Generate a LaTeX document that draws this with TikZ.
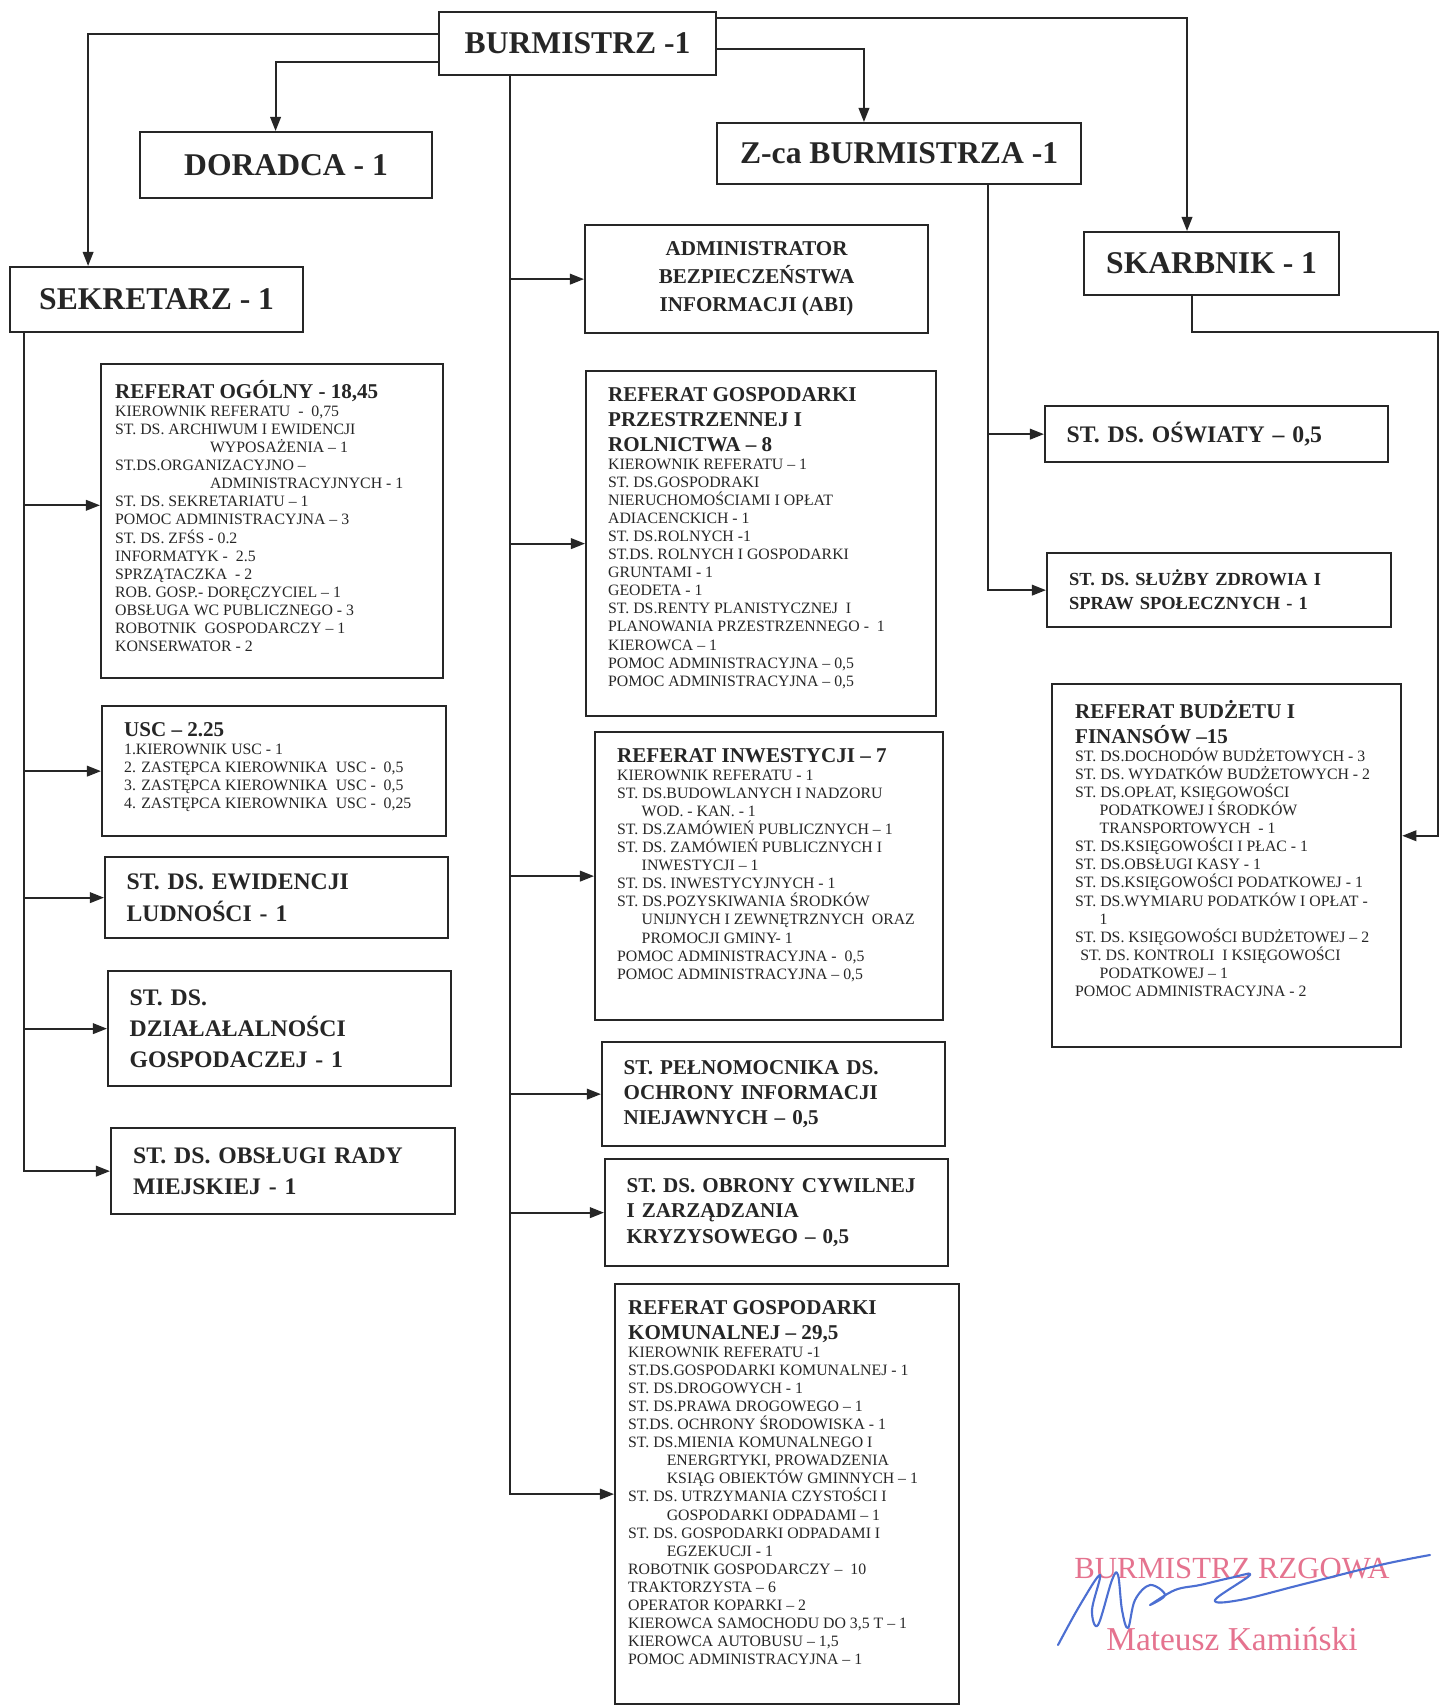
\documentclass[tikz,border=0pt]{standalone}
\usepackage{fontspec}
\setmainfont{Liberation Serif}
\usetikzlibrary{arrows.meta}

\definecolor{ink}{HTML}{262626}
\definecolor{stamp}{HTML}{E5738F}
\definecolor{pen}{HTML}{4C6FD2}
\newcommand{\depthead}{\fontsize{12}{14.2}\selectfont\bfseries}

\begin{document}
\begin{tikzpicture}[
    x=0.02cm, y=-0.02cm,
    box/.style={
        rectangle,
        draw=ink,
        line width=1.3pt,
        anchor=north west,
        inner sep=2pt,
        text=ink
    },
    chief/.style={
        box,
        align=center,
        font=\fontsize{18}{21}\selectfont\bfseries
    },
    post/.style={
        box,
        align=left,
        text width=6cm,
        font=\fontsize{13.5}{17.8}\selectfont\bfseries
    },
    dept/.style={
        box,
        font=\fontsize{9}{10.3}\selectfont
    },
    arr/.style={
        draw=ink,
        line width=1.1pt,
        -{Triangle[length=8pt,width=6pt]}
    }
]

\fill[white] (0,0) rectangle (1453,1705);
\useasboundingbox (0,0) rectangle (1453,1705);

% Management
\node[chief, minimum width=5.54cm, minimum height=1.26cm] (burm) at (438,11) {BURMISTRZ -1};
\node[chief, minimum width=5.84cm, minimum height=1.32cm] (doradca) at (139,131) {DORADCA - 1};
\node[chief, minimum width=7.28cm, minimum height=1.22cm] (zca) at (716,122) {Z-ca BURMISTRZA -1};
\node[chief, minimum width=5.86cm, minimum height=1.30cm] (sekr) at (9,266) {SEKRETARZ - 1};
\node[chief, minimum width=5.10cm, minimum height=1.26cm] (skarb) at (1083,231) {SKARBNIK - 1};
\node[box, align=center, font=\fontsize{12}{16}\selectfont\bfseries,
      minimum width=6.86cm, minimum height=2.16cm] (abi) at (584,224)
      {ADMINISTRATOR\\BEZPIECZEŃSTWA\\INFORMACJI (ABI)};

% Single posts
\node[post, minimum width=6.86cm, minimum height=1.12cm] (oswiaty) at (1044,405) {ST. DS. OŚWIATY – 0,5};
\node[post, font=\fontsize{10.5}{13.6}\selectfont\bfseries, minimum width=6.88cm, minimum height=1.48cm]
      (zdrowie) at (1046,552) {ST. DS. SŁUŻBY ZDROWIA I\\SPRAW SPOŁECZNYCH - 1};
\node[post, minimum width=6.86cm, minimum height=1.62cm] (ewid) at (104,856) {ST. DS. EWIDENCJI\\LUDNOŚCI - 1};
\node[post, minimum width=6.86cm, minimum height=2.30cm] (dzial) at (107,970) {ST. DS.\\DZIAŁAŁALNOŚCI\\GOSPODACZEJ - 1};
\node[post, minimum width=6.88cm, minimum height=1.72cm] (rada) at (110,1127) {ST. DS. OBSŁUGI RADY\\MIEJSKIEJ - 1};
\node[post, font=\fontsize{12}{14.5}\selectfont\bfseries, minimum width=6.86cm, minimum height=2.08cm]
      (pelnom) at (601,1041) {ST. PEŁNOMOCNIKA DS.\\OCHRONY INFORMACJI\\NIEJAWNYCH – 0,5};
\node[post, font=\fontsize{12}{14.5}\selectfont\bfseries, minimum width=6.86cm, minimum height=2.14cm]
      (obrona) at (604,1158) {ST. DS. OBRONY CYWILNEJ\\I ZARZĄDZANIA\\KRYZYSOWEGO – 0,5};

% Departments
\node[dept, minimum width=6.84cm, minimum height=6.28cm] (ogolny) at (100,363) {\parbox[t][5.64cm][t]{6.28cm}{%
    {\depthead REFERAT OGÓLNY - 18,45\par}
    KIEROWNIK REFERATU\ \ -\ \ 0,75\\
    ST. DS. ARCHIWUM I EWIDENCJI\\
    \hspace*{54pt}WYPOSAŻENIA – 1\\
    ST.DS.ORGANIZACYJNO –\\
    \hspace*{54pt}ADMINISTRACYJNYCH - 1\\
    ST. DS. SEKRETARIATU – 1\\
    POMOC ADMINISTRACYJNA – 3\\
    ST. DS. ZFŚS - 0.2\\
    INFORMATYK -\ \ 2.5\\
    SPRZĄTACZKA\ \ - 2\\
    ROB. GOSP.- DORĘCZYCIEL – 1\\
    OBSŁUGA WC PUBLICZNEGO - 3\\
    ROBOTNIK\ \ GOSPODARCZY – 1\\
    KONSERWATOR - 2}};

\node[dept, minimum width=6.88cm, minimum height=2.60cm] (usc) at (101,705) {\parbox[t][1.96cm][t]{6.0cm}{%
    {\depthead USC – 2.25\par}
    1.KIEROWNIK USC - 1\\
    2. ZASTĘPCA KIEROWNIKA\ \ USC -\ \ 0,5\\
    3. ZASTĘPCA KIEROWNIKA\ \ USC -\ \ 0,5\\
    4. ZASTĘPCA KIEROWNIKA\ \ USC -\ \ 0,25}};

\node[dept, minimum width=7.00cm, minimum height=6.90cm] (przestrz) at (585,370) {\parbox[t][6.26cm][t]{6.12cm}{%
    {\depthead REFERAT GOSPODARKI\\PRZESTRZENNEJ I\\ROLNICTWA – 8\par}
    KIEROWNIK REFERATU – 1\\
    ST. DS.GOSPODRAKI\\
    NIERUCHOMOŚCIAMI I OPŁAT\\
    ADIACENCKICH - 1\\
    ST. DS.ROLNYCH -1\\
    ST.DS. ROLNYCH I GOSPODARKI\\
    GRUNTAMI - 1\\
    GEODETA - 1\\
    ST. DS.RENTY PLANISTYCZNEJ\ \ I\\
    PLANOWANIA PRZESTRZENNEGO -\ \ 1\\
    KIEROWCA – 1\\
    POMOC ADMINISTRACYJNA – 0,5\\
    POMOC ADMINISTRACYJNA – 0,5}};

\node[dept, minimum width=6.96cm, minimum height=5.76cm] (inwest) at (594,731) {\parbox[t][5.12cm][t]{6.08cm}{%
    {\depthead REFERAT INWESTYCJI – 7\par}
    KIEROWNIK REFERATU - 1\\
    ST. DS.BUDOWLANYCH I NADZORU\\
    \hspace*{14pt}WOD. - KAN. - 1\\
    ST. DS.ZAMÓWIEŃ PUBLICZNYCH – 1\\
    ST. DS. ZAMÓWIEŃ PUBLICZNYCH I\\
    \hspace*{14pt}INWESTYCJI – 1\\
    ST. DS. INWESTYCYJNYCH - 1\\
    ST. DS.POZYSKIWANIA ŚRODKÓW\\
    \hspace*{14pt}UNIJNYCH I ZEWNĘTRZNYCH\ \ ORAZ\\
    \hspace*{14pt}PROMOCJI GMINY- 1\\
    POMOC ADMINISTRACYJNA -\ \ 0,5\\
    POMOC ADMINISTRACYJNA – 0,5}};

\node[dept, minimum width=6.88cm, minimum height=8.40cm] (komun) at (614,1283) {\parbox[t][7.76cm][t]{6.36cm}{%
    {\depthead REFERAT GOSPODARKI\\KOMUNALNEJ – 29,5\par}
    KIEROWNIK REFERATU -1\\
    ST.DS.GOSPODARKI KOMUNALNEJ - 1\\
    ST. DS.DROGOWYCH - 1\\
    ST. DS.PRAWA DROGOWEGO – 1\\
    ST.DS. OCHRONY ŚRODOWISKA - 1\\
    ST. DS.MIENIA KOMUNALNEGO I\\
    \hspace*{22pt}ENERGRTYKI, PROWADZENIA\\
    \hspace*{22pt}KSIĄG OBIEKTÓW GMINNYCH – 1\\
    ST. DS. UTRZYMANIA CZYSTOŚCI I\\
    \hspace*{22pt}GOSPODARKI ODPADAMI – 1\\
    ST. DS. GOSPODARKI ODPADAMI I\\
    \hspace*{22pt}EGZEKUCJI - 1\\
    ROBOTNIK GOSPODARCZY –\ \ 10\\
    TRAKTORZYSTA – 6\\
    OPERATOR KOPARKI – 2\\
    KIEROWCA SAMOCHODU DO 3,5 T – 1\\
    KIEROWCA AUTOBUSU – 1,5\\
    POMOC ADMINISTRACYJNA – 1}};

\node[dept, minimum width=6.98cm, minimum height=7.26cm] (budzet) at (1051,683) {\parbox[t][6.62cm][t]{6.06cm}{%
    {\depthead REFERAT BUDŻETU I\\FINANSÓW –15\par}
    ST. DS.DOCHODÓW BUDŻETOWYCH - 3\\
    ST. DS. WYDATKÓW BUDŻETOWYCH - 2\\
    ST. DS.OPŁAT, KSIĘGOWOŚCI\\
    \hspace*{14pt}PODATKOWEJ I ŚRODKÓW\\
    \hspace*{14pt}TRANSPORTOWYCH\ \ - 1\\
    ST. DS.KSIĘGOWOŚCI I PŁAC - 1\\
    ST. DS.OBSŁUGI KASY - 1\\
    ST. DS.KSIĘGOWOŚCI PODATKOWEJ - 1\\
    ST. DS.WYMIARU PODATKÓW I OPŁAT -\\
    \hspace*{14pt}1\\
    ST. DS. KSIĘGOWOŚCI BUDŻETOWEJ – 2\\
    \hspace*{3pt}ST. DS. KONTROLI\ \ I KSIĘGOWOŚCI\\
    \hspace*{14pt}PODATKOWEJ – 1\\
    POMOC ADMINISTRACYJNA - 2}};

% Trunk lines
\coordinate (spine) at (510,0);
\coordinate (lspine) at (24,0);
\coordinate (zspine) at (988,0);
\coordinate (sbend) at (1192,332);
\coordinate (sdrop) at (1438,332);

% From BURMISTRZ
\draw[arr] ([yshift=5.5pt]burm.west) -| ([xshift=-39pt]sekr.north);
\draw[arr] ([yshift=-10.5pt]burm.west) -| ([xshift=-6pt]doradca.north);
\draw[arr] ([yshift=14.5pt]burm.east) -| ([xshift=-14pt]skarb.north);
\draw[arr] ([yshift=-3pt]burm.east) -| ([xshift=-20pt]zca.north);
\draw[arr] (burm.south -| spine) |- (komun.west);
\foreach \n in {abi,przestrz,inwest,pelnom,obrona}
    \draw[arr] (\n.west -| spine) -- (\n.west);

% From SEKRETARZ
\draw[arr] (sekr.south -| lspine) |- (rada.west);
\draw[arr] ([yshift=9pt]ogolny.west -| lspine) -- ([yshift=9pt]ogolny.west);
\foreach \n in {usc,ewid,dzial}
    \draw[arr] (\n.west -| lspine) -- (\n.west);

% From Z-ca
\draw[arr] (zca.south -| zspine) |- (zdrowie.west);
\draw[arr] (oswiaty.west -| zspine) -- (oswiaty.west);

% From SKARBNIK
\draw[arr] (skarb.south -| sbend) -- (sbend) -- (sdrop) |- ([yshift=17pt]budzet.east);

% Stamp and signature
\node[font=\fontsize{17.5}{20}\selectfont, text=stamp] (stamptitle) at (1232,1569) {BURMISTRZ RZGOWA};
\node[font=\fontsize{19}{22}\selectfont, text=stamp] (stampname) at (1232,1639) {Mateusz Kamiński};
\draw[pen, line width=1.2pt, line cap=round, line join=round] plot[smooth, tension=0.6] coordinates {
    (1058,1645) (1080,1605) (1100,1575) (1092,1610) (1098,1625) (1112,1580) (1118,1575)
    (1122,1610) (1128,1628) (1135,1600) (1150,1585) (1165,1595) (1150,1605) (1175,1590)
    (1200,1585) (1230,1578) (1250,1575) (1215,1600) (1240,1600) (1300,1585) (1380,1565) (1430,1555)};

\end{tikzpicture}
\end{document}
